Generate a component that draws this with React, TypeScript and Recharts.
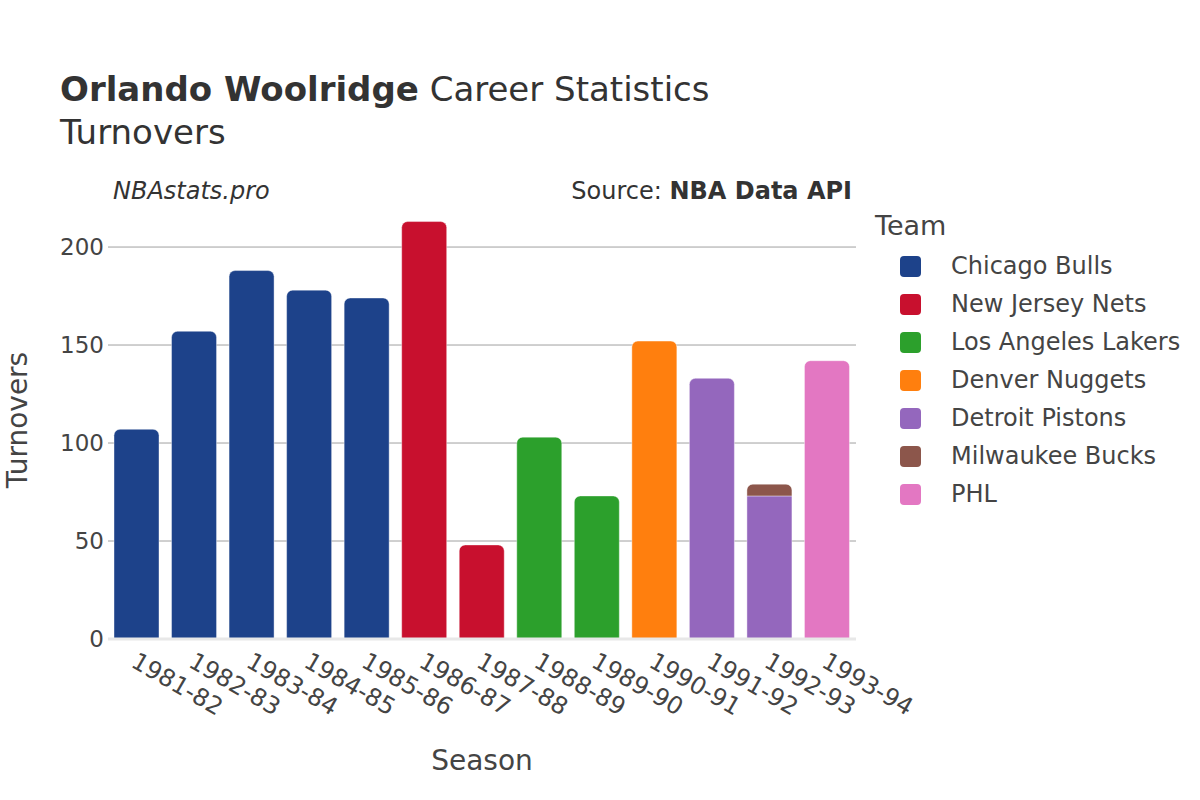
import { BarChart, Bar, XAxis, YAxis, CartesianGrid, Cell } from "recharts";

const FONT = "'DejaVu Sans', sans-serif";
const TEXT = "#444";

const seasons = [
  "1981-82", "1982-83", "1983-84", "1984-85", "1985-86", "1986-87", "1987-88",
  "1988-89", "1989-90", "1990-91", "1991-92", "1992-93", "1993-94",
];

const teams = [
  "Chicago Bulls",
  "New Jersey Nets",
  "Los Angeles Lakers",
  "Denver Nuggets",
  "Detroit Pistons",
  "Milwaukee Bucks",
  "PHL",
];

const teamColors = ["#1d428a", "#c8102e", "#2ca02c", "#ff7f0e", "#9467bd", "#8c564b", "#e377c2"];

// turnovers per season, null where the team has no row
const chicagoBulls = [107, 157, 188, 178, 174, null, null, null, null, null, null, null, null];
const newJerseyNets = [null, null, null, null, null, 213, 48, null, null, null, null, null, null];
const losAngelesLakers = [null, null, null, null, null, null, null, 103, 73, null, null, null, null];
const denverNuggets = [null, null, null, null, null, null, null, null, null, 152, null, null, null];
const detroitPistons = [null, null, null, null, null, null, null, null, null, null, 133, 73, null];
const milwaukeeBucks = [null, null, null, null, null, null, null, null, null, null, null, 6, null];
const phl = [null, null, null, null, null, null, null, null, null, null, null, null, 142];

const yTicks = [0, 50, 100, 150, 200];

const series = [chicagoBulls, newJerseyNets, losAngelesLakers, denverNuggets, detroitPistons, milwaukeeBucks, phl];

const data = seasons.map((season, i) => {
  const row: Record<string, string | number | null> = { season };
  teams.forEach((t, k) => {
    row[t] = series[k][i];
  });
  return row;
});

function SeasonTick({ x, y, payload }: any) {
  return (
    <text
      x={x - 7}
      y={y + 25}
      transform={`rotate(30, ${x - 7}, ${y + 25})`}
      textAnchor="start"
      fill={TEXT}
      fontSize={24}
      fontFamily={FONT}
    >
      {payload.value}
    </text>
  );
}

function TeamLegend() {
  return (
    <div style={{ position: "absolute", left: 875, top: 206, fontFamily: FONT, color: TEXT }}>
      <div style={{ fontSize: 27, height: 41, lineHeight: "40px" }}>Team</div>
      {teams.map((t, i) => (
        <div key={t} style={{ display: "flex", alignItems: "center", height: 38 }}>
          <div
            style={{
              width: 21,
              height: 21,
              borderRadius: 4,
              background: teamColors[i],
              marginLeft: 25,
              marginRight: 30,
            }}
          />
          <span style={{ fontSize: 24 }}>{t}</span>
        </div>
      ))}
    </div>
  );
}

export default function App() {
  // stacked bar in 1992-93: only the top segment keeps the rounded corners
  const isBelowStack = (team: string, i: number) =>
    team === "Detroit Pistons" && milwaukeeBucks[i] != null;

  return (
    <div style={{ position: "fixed", left: 0, top: 0, width: 1200, height: 800, background: "#fff" }}>
      <BarChart
        width={1200}
        height={800}
        data={data}
        margin={{ top: 200, right: 344, bottom: 0, left: 0 }}
      >
        <CartesianGrid vertical={false} stroke="#a0a0a0" horizontalValues={yTicks} />
        <XAxis
          dataKey="season"
          height={161}
          tickSize={0}
          tickLine={false}
          axisLine={{ stroke: "#e8e8e8", strokeWidth: 3 }}
          tick={<SeasonTick />}
          interval={0}
        />
        <YAxis
          width={108}
          domain={[0, 224]}
          ticks={yTicks}
          tickSize={0}
          tickMargin={4}
          tickLine={false}
          axisLine={false}
          tick={{ fill: TEXT, fontSize: 23, fontFamily: FONT }}
        />
        {teams.map((t, k) => (
          <Bar
            key={t}
            dataKey={t}
            stackId="a"
            fill={teamColors[k]}
            stroke="#ffffff"
            strokeOpacity={0.5}
            strokeWidth={0.8}
            barSize={45}
            radius={[6, 6, 0, 0]}
            isAnimationActive={false}
          >
            {seasons.map((s, i) => (
              <Cell key={s} fill={teamColors[k]} {...(isBelowStack(t, i) ? { radius: 0 } : {})} />
            ))}
          </Bar>
        ))}
      </BarChart>
      <TeamLegend />
      <svg
        width={1200}
        height={800}
        style={{ position: "absolute", left: 0, top: 0, pointerEvents: "none" }}
        fontFamily={FONT}
      >
        <text x={60} y={101} fontSize={34} fill="#333">
          <tspan fontWeight="bold">Orlando Woolridge</tspan>
          <tspan> Career Statistics</tspan>
        </text>
        <text x={60} y={144} fontSize={34} fill="#333">
          Turnovers
        </text>
        <text x={113} y={199} fontSize={24} fontStyle="italic" fill="#333">
          NBAstats.pro
        </text>
        <text x={852} y={199} fontSize={24} textAnchor="end" fill="#333">
          Source: <tspan fontWeight="bold">NBA Data API</tspan>
        </text>
        <text x={482} y={770} fontSize={28} textAnchor="middle" fill={TEXT}>
          Season
        </text>
        <text
          x={27}
          y={420}
          fontSize={28}
          textAnchor="middle"
          fill={TEXT}
          transform="rotate(-90, 27, 420)"
        >
          Turnovers
        </text>
      </svg>
    </div>
  );
}
